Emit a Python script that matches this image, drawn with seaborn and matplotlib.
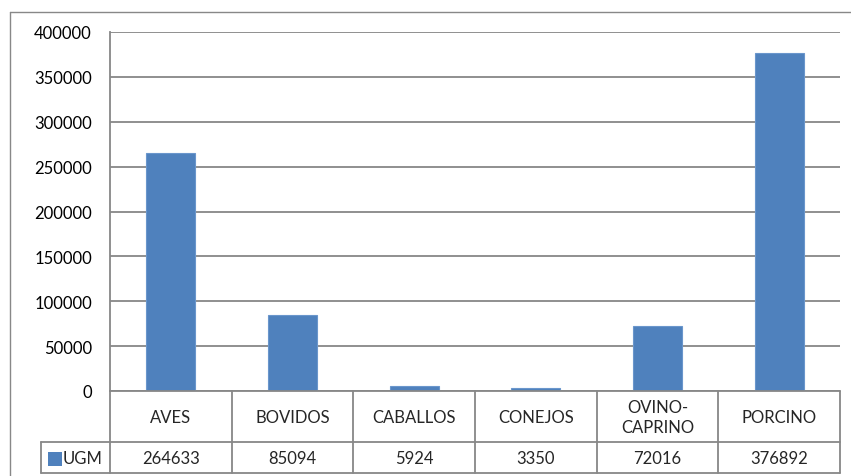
import matplotlib
matplotlib.use("Agg")
import matplotlib.pyplot as plt
import seaborn as sns
from matplotlib.lines import Line2D
from matplotlib.patches import Rectangle
from matplotlib.transforms import blended_transform_factory

categories = ["AVES", "BOVIDOS", "CABALLOS", "CONEJOS", "OVINO-\nCAPRINO", "PORCINO"]
ugm = [264633, 85094, 5924, 3350, 72016, 376892]
series_name = "UGM"
yticks = [0, 50000, 100000, 150000, 200000, 250000, 300000, 350000, 400000]

sns.set_style("white")
plt.rcParams["font.family"] = ["Lato", "DejaVu Sans"]
fs = 12

W, H = 851, 477
fig = plt.figure(figsize=(W / 100, H / 100), dpi=100)

def fx(px):
    return px / W

def fy(py):
    return 1 - py / H

grid_c = "#878787"
bar_c = "#4F81BD"

# plot area
ax = fig.add_axes([fx(110), fy(392), fx(840) - fx(110), fy(33) - fy(392)])
sns.barplot(x=list(range(len(ugm))), y=ugm, color=bar_c, saturation=1, width=0.4,
            edgecolor="#6a96cc", linewidth=0.8, ax=ax, zorder=3)
ax.set_xlim(-0.5, len(ugm) - 0.5)
ax.set_ylim(0, 400000)
ax.set_yticks(yticks)
ax.set_yticklabels([str(v) for v in yticks])
ax.set_xticks([])
ax.set_xlabel("")
ax.set_ylabel("")
ax.yaxis.grid(True, color=grid_c, linewidth=1.3)
ax.set_axisbelow(True)
ax.tick_params(axis="y", length=0, pad=13, labelsize=fs, colors="black")
for s in ["top", "right", "bottom"]:
    ax.spines[s].set_visible(False)
ax.spines["left"].set_color(grid_c)
ax.spines["left"].set_linewidth(1.3)

# data table below the axis
tr = blended_transform_factory(ax.transData, fig.transFigure)
kw = dict(color=grid_c, linewidth=1.3)
n = len(categories)
fig.add_artist(Line2D([-0.5, n - 0.5], [fy(392), fy(392)], transform=tr, **kw))
fig.add_artist(Line2D([fx(41), fx(840)], [fy(443), fy(443)], **kw))
fig.add_artist(Line2D([fx(41), fx(840)], [fy(474), fy(474)], **kw))
fig.add_artist(Line2D([fx(41), fx(41)], [fy(443), fy(474)], **kw))
for i in range(n + 1):
    xb = i - 0.5
    fig.add_artist(Line2D([xb, xb], [fy(392), fy(474)], transform=tr, **kw))
for i, (c, v) in enumerate(zip(categories, ugm)):
    fig.text(i, fy(418), c, transform=tr, ha="center", va="center",
             fontsize=fs, linespacing=1.3)
    fig.text(i, fy(459), str(v), transform=tr, ha="center", va="center",
             fontsize=fs)

# legend key in the table
fig.add_artist(Rectangle((fx(48), fy(467)), fx(62) - fx(48), fy(453) - fy(467),
                         facecolor=bar_c, edgecolor="none"))
fig.text(fx(63), fy(459), series_name, ha="left", va="center", fontsize=fs)

# outer chart border
fig.add_artist(Line2D([fx(10), fx(10)], [0, fy(13)], color="#888888", linewidth=1))
fig.add_artist(Line2D([fx(10), 1], [fy(13), fy(13)], color="#888888", linewidth=1))

fig.savefig("out.png", dpi=100)
